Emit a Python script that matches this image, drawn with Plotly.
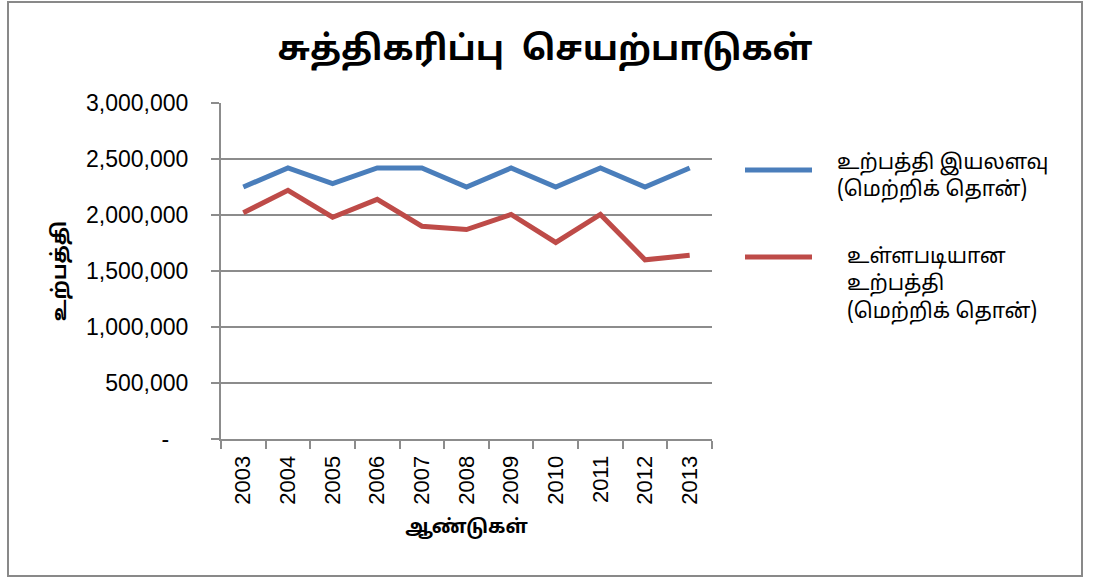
import plotly.graph_objects as go

years = ["2003", "2004", "2005", "2006", "2007", "2008", "2009", "2010", "2011", "2012", "2013"]
capacity = [2250000, 2420000, 2280000, 2420000, 2420000, 2250000, 2420000, 2250000, 2420000, 2250000, 2420000]
actual = [2020000, 2220000, 1980000, 2140000, 1900000, 1870000, 2005000, 1755000, 2005000, 1600000, 1640000]

name_capacity = "உற்பத்தி இயலளவு<br>(மெற்றிக் தொன்)"
name_actual = "உள்ளபடியான<br>உற்பத்தி<br>(மெற்றிக் தொன்)"
title_text = "சுத்திகரிப்பு  செயற்பாடுகள்"
x_title = "ஆண்டுகள்"
y_title = "உற்பத்தி"

y_tickvals = [0, 500000, 1000000, 1500000, 2000000, 2500000, 3000000]
y_ticktext = ["-\u00a0\u00a0\u00a0", "500,000", "1,000,000", "1,500,000", "2,000,000", "2,500,000", "3,000,000"]

blue = "#4a7ebb"
red = "#be4b48"
grid = "#8c8c8c"
tamil = "Noto Sans Tamil, Lohit Tamil, Liberation Sans, sans-serif"

W, H = 1099, 578
L, R, T, B = 221, 712, 103, 439

fig = go.Figure()
fig.add_trace(go.Scatter(x=years, y=capacity, mode="lines", name=name_capacity,
                         line=dict(color=blue, width=5), showlegend=False))
fig.add_trace(go.Scatter(x=years, y=actual, mode="lines", name=name_actual,
                         line=dict(color=red, width=5), showlegend=False))

def px(x):
    return (x - L) / (R - L)

def py(y):
    return (B - y) / (B - T)

shapes = [
    dict(type="rect", xref="paper", yref="paper", x0=px(8), x1=px(1082), y0=py(576), y1=py(2),
         line=dict(color="#898989", width=2), fillcolor="rgba(0,0,0,0)", layer="below"),
    dict(type="line", xref="paper", yref="paper", x0=px(745), x1=px(812), y0=py(170), y1=py(170),
         line=dict(color=blue, width=5)),
    dict(type="line", xref="paper", yref="paper", x0=px(745), x1=px(812), y0=py(257), y1=py(257),
         line=dict(color=red, width=5)),
]

annotations = [
    dict(text=name_capacity, xref="paper", yref="paper", x=px(835), y=py(177), xanchor="left",
         yanchor="middle", align="left", showarrow=False,
         font=dict(family=tamil, size=21, color="#000")),
    dict(text=name_actual, xref="paper", yref="paper", x=px(845), y=py(285), xanchor="left",
         yanchor="middle", align="left", showarrow=False,
         font=dict(family=tamil, size=21, color="#000")),
]

fig.update_layout(
    width=W, height=H,
    margin=dict(l=L, r=W - R, t=T, b=H - B, pad=0),
    paper_bgcolor="white", plot_bgcolor="white",
    title=dict(text=title_text, x=545 / W, xanchor="center", y=1 - 48 / H, yanchor="middle",
               font=dict(family=tamil, size=34, color="#000", weight="bold")),
    shapes=shapes,
    annotations=annotations,
    xaxis=dict(type="category", range=[-0.5, 10.5], showgrid=False,
               showline=True, linecolor=grid, linewidth=2,
               ticks="outside", tickson="boundaries", ticklen=8, tickcolor=grid, tickwidth=2,
               tickangle=-90, ticklabelstandoff=6,
               tickfont=dict(family="Liberation Sans", size=22, color="#000"),
               title=dict(text=x_title, standoff=16,
                          font=dict(family=tamil, size=19, color="#000", weight="bold"))),
    yaxis=dict(range=[0, 3000000], tickvals=y_tickvals, ticktext=y_ticktext,
               showgrid=True, gridcolor=grid, gridwidth=1.5,
               showline=True, linecolor=grid, linewidth=2, zeroline=False,
               ticks="outside", ticklen=8, tickcolor=grid, tickwidth=2,
               ticklabelstandoff=18,
               tickfont=dict(family="Liberation Sans", size=23, color="#000"),
               title=dict(text=y_title, standoff=14,
                          font=dict(family=tamil, size=20, color="#000", weight="bold"))),
)

fig.write_html("out.html", config={"displayModeBar": False},
               post_script="document.body.style.margin='0';document.body.style.overflow='hidden';")
